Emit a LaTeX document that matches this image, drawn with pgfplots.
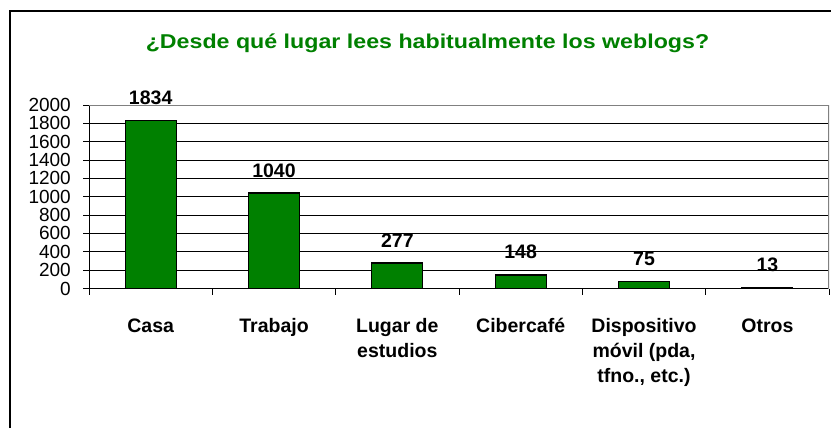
\documentclass[border=0pt]{standalone}
\usepackage{pgfplots}
\pgfplotsset{compat=1.18}
\usepackage{fontspec}
\setmainfont{Liberation Sans}
\newfontfamily\titlefont[FakeStretch=1.16]{Liberation Sans}
\definecolor{bargreen}{RGB}{0,128,0}
\newcommand{\fl}{\rule{0pt}{16bp}}
\begin{document}
\begin{tikzpicture}[x=1bp,y=1bp]
\useasboundingbox (0,0) rectangle (831,428);
\draw[line width=1.6bp] (10,0) -- (10,417) -- (835,417);
\node[font=\titlefont\bfseries\fontsize{20bp}{24bp}\selectfont, text=bargreen, anchor=base] at (427.5,379.7) {¿Desde qué lugar lees habitualmente los weblogs?};
\begin{axis}[
  at={(89bp,139.5bp)}, anchor=south west,
  width=740bp, height=183.5bp, scale only axis,
  xmin=-0.5, xmax=5.5, ymin=0, ymax=2000,
  axis x line*=bottom, axis y line*=left,
  axis line style={black, line width=1bp},
  tick align=outside,
  major tick length=6bp,
  ytick={0,200,...,2000},
  ymajorgrids, grid style={black, line width=0.8bp},
  ytick style={draw=black, line width=0.8bp},
  /pgf/number format/assume math mode=true,
  /pgf/number format/1000 sep={},
  y tick label style={font=\fontsize{19bp}{19bp}\selectfont, inner sep=0pt, xshift=-12bp},
  xtick={0,...,5},
  xticklabels={\fl Casa, \fl Trabajo, {\fl Lugar de\\estudios}, \fl Cibercafé, {\fl Dispositivo\\móvil (pda,\\tfno., etc.)}, \fl Otros},
  xtick style={draw=none},
  x tick label style={font=\bfseries\fontsize{19.5bp}{25bp}\selectfont, align=center, anchor=north, inner sep=0pt, yshift=-21.5bp},
  extra x ticks={-0.5,0.5,...,5.5},
  extra x tick labels={},
  extra x tick style={xtick style={draw=black, line width=0.8bp}, grid=none},
  ybar, bar width=51bp,
  nodes near coords,
  every node near coord/.append style={font=\bfseries\fontsize{19.5bp}{19.5bp}\selectfont, anchor=base, inner sep=0pt, yshift=16bp, text=black},
]
\addplot[ybar, bar shift=0pt, fill=bargreen, draw=black, line width=1.2bp] coordinates {(0,1834) (1,1040) (2,277) (3,148) (4,75) (5,13)};
\draw[gray, line width=1.2bp] (rel axis cs:0,1) -- (rel axis cs:1,1) -- (rel axis cs:1,0);
\end{axis}
\end{tikzpicture}
\end{document}
